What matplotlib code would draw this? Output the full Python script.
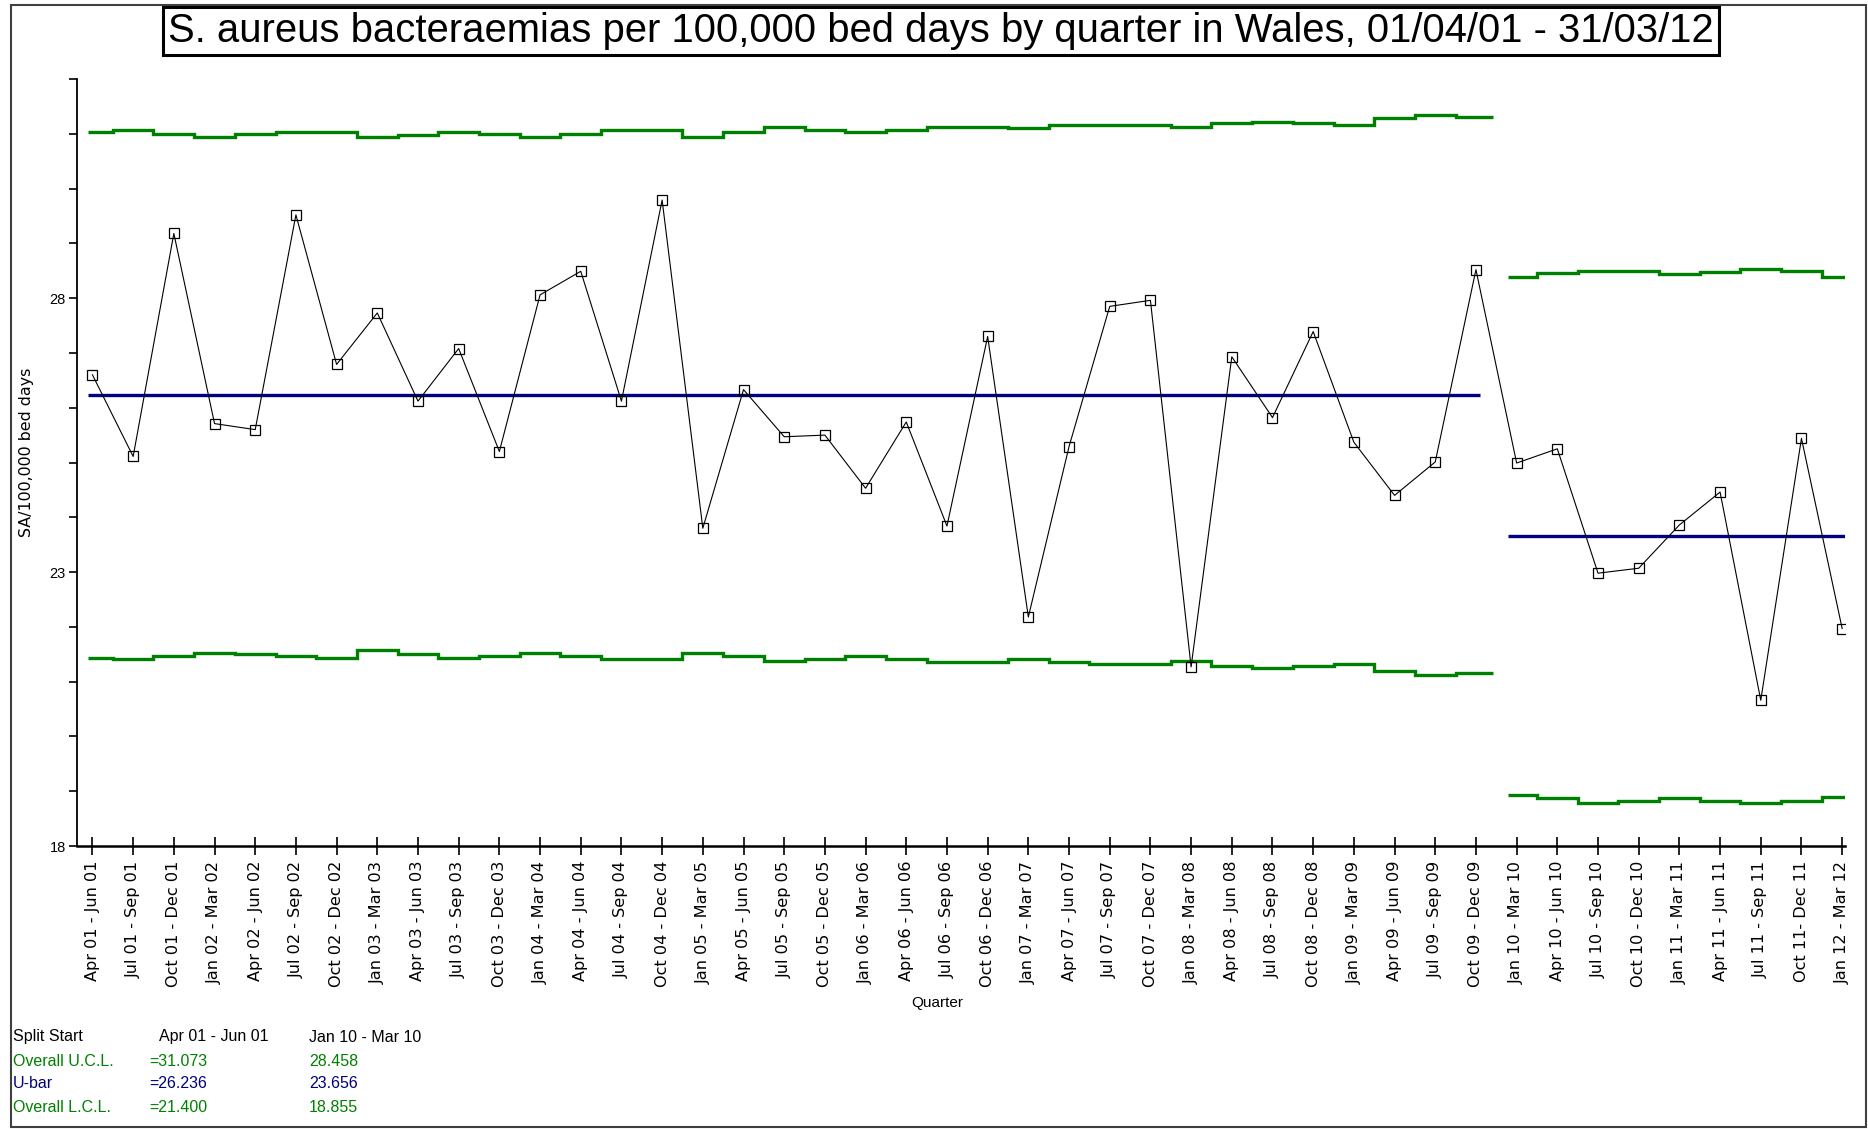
import numpy as np
import matplotlib
matplotlib.use("Agg")
import matplotlib.pyplot as plt
from matplotlib.patches import Rectangle
from matplotlib import font_manager

# ---------------- data ----------------
quarters = [
    "Apr 01 - Jun 01", "Jul 01 - Sep 01", "Oct 01 - Dec 01", "Jan 02 - Mar 02",
    "Apr 02 - Jun 02", "Jul 02 - Sep 02", "Oct 02 - Dec 02", "Jan 03 - Mar 03",
    "Apr 03 - Jun 03", "Jul 03 - Sep 03", "Oct 03 - Dec 03", "Jan 04 - Mar 04",
    "Apr 04 - Jun 04", "Jul 04 - Sep 04", "Oct 04 - Dec 04", "Jan 05 - Mar 05",
    "Apr 05 - Jun 05", "Jul 05 - Sep 05", "Oct 05 - Dec 05", "Jan 06 - Mar 06",
    "Apr 06 - Jun 06", "Jul 06 - Sep 06", "Oct 06 - Dec 06", "Jan 07 - Mar 07",
    "Apr 07 - Jun 07", "Jul 07 - Sep 07", "Oct 07 - Dec 07", "Jan 08 - Mar 08",
    "Apr 08 - Jun 08", "Jul 08 - Sep 08", "Oct 08 - Dec 08", "Jan 09 - Mar 09",
    "Apr 09 - Jun 09", "Jul 09 - Sep 09", "Oct 09 - Dec 09", "Jan 10 - Mar 10",
    "Apr 10 - Jun 10", "Jul 10 - Sep 10", "Oct 10 - Dec 10", "Jan 11 - Mar 11",
    "Apr 11 - Jun 11", "Jul 11 - Sep 11", "Oct 11- Dec 11", "Jan 12 - Mar 12",
]

rate = [26.60, 25.11, 29.18, 25.71, 25.60, 29.52, 26.79, 27.73, 26.12, 27.08,
        25.20, 28.06, 28.49, 26.12, 29.79, 23.80, 26.33, 25.47, 25.50, 24.53,
        25.74, 23.84, 27.30, 22.18, 25.29, 27.85, 27.96, 21.27, 26.93, 25.82,
        27.39, 25.37, 24.40, 25.01, 28.52, 24.99, 25.25, 22.98, 23.07, 23.86,
        24.46, 20.66, 25.44, 21.97]

ucl_phase1 = [31.03, 31.06, 31.00, 30.94, 31.00, 31.03, 31.03, 30.94, 30.97, 31.03,
              31.00, 30.94, 31.00, 31.06, 31.06, 30.94, 31.03, 31.13, 31.06, 31.03,
              31.06, 31.13, 31.13, 31.10, 31.16, 31.16, 31.16, 31.13, 31.19, 31.22,
              31.19, 31.16, 31.28, 31.34, 31.31]
lcl_phase1 = [21.44, 21.41, 21.47, 21.53, 21.50, 21.47, 21.44, 21.57, 21.50, 21.44,
              21.47, 21.53, 21.47, 21.41, 21.41, 21.53, 21.47, 21.38, 21.41, 21.47,
              21.41, 21.35, 21.35, 21.42, 21.35, 21.32, 21.32, 21.38, 21.28, 21.25,
              21.28, 21.32, 21.19, 21.13, 21.16]
ucl_phase2 = [28.39, 28.45, 28.50, 28.50, 28.44, 28.47, 28.54, 28.50, 28.39]
lcl_phase2 = [18.93, 18.88, 18.79, 18.82, 18.88, 18.82, 18.79, 18.82, 18.90]

ubar = [26.236, 23.656]
overall_ucl = [31.073, 28.458]
overall_lcl = [21.400, 18.855]
split_start = ["Apr 01 - Jun 01", "Jan 10 - Mar 10"]

title = "S. aureus bacteraemias per 100,000 bed days by quarter in Wales, 01/04/01 - 31/03/12"
ylabel = "SA/100,000 bed days"
xlabel = "Quarter"

# ---------------- style ----------------
GREEN = "#008000"
NAVY = "#000080"
W, H = 1868, 1129

avail = {f.name for f in font_manager.fontManager.ttflist}
NARROW = "Liberation Sans Narrow" if "Liberation Sans Narrow" in avail else "Liberation Sans"
ARIAL = "Liberation Sans"
WIDE = "DejaVu Sans"

fig = plt.figure(figsize=(W / 100, H / 100), dpi=100)
fig.patch.set_facecolor("white")

def fx(px):
    return px / W

def fy(py):
    return 1 - py / H

# outer frame
fig.add_artist(Rectangle((fx(11), fy(1127)), fx(1866) - fx(11), fy(5) - fy(1127),
                         transform=fig.transFigure, fill=False, edgecolor="#404040",
                         linewidth=1.5))

ax = fig.add_axes([fx(77), fy(846), fx(1845) - fx(77), fy(79) - fy(846)])
ax.set_facecolor("white")

n = len(rate)
x = np.arange(n)
n1 = len(ucl_phase1)

# control limits (phase 1)
edges1 = np.arange(n1 + 1) - 0.5
edges1[0] = -0.11
edges1[-1] = n1 - 1 + 0.42
ax.stairs(ucl_phase1, edges1, baseline=None, color=GREEN, linewidth=2.4)
ax.stairs(lcl_phase1, edges1, baseline=None, color=GREEN, linewidth=2.4)
ax.hlines(ubar[0], -0.11, n1 - 1 + 0.09, color=NAVY, linewidth=2.4)

# control limits (phase 2)
n2 = len(ucl_phase2)
edges2 = np.arange(n1, n1 + n2 + 1) - 0.5
edges2[0] = n1 - 0.21
edges2[-1] = n - 1 + 0.07
ax.stairs(ucl_phase2, edges2, baseline=None, color=GREEN, linewidth=2.4)
ax.stairs(lcl_phase2, edges2, baseline=None, color=GREEN, linewidth=2.4)
ax.hlines(ubar[1], n1 - 0.21, n - 1 + 0.07, color=NAVY, linewidth=2.4)

# data
ax.plot(x, rate, color="black", linewidth=0.8, marker="s", markersize=7,
        markerfacecolor="none", markeredgecolor="black", markeredgewidth=0.9, zorder=5)

ax.set_xlim(-0.38, n - 1 + 0.07)
ax.set_ylim(18, 32)

for s in ["top", "right"]:
    ax.spines[s].set_visible(False)
ax.spines["left"].set_linewidth(1.3)
ax.spines["bottom"].set_linewidth(1.8)

ax.set_yticks([18, 23, 28])
ax.set_yticks(np.arange(18, 33, 1), minor=True)
ax.set_yticklabels(["18", "23", "28"], fontsize=10.5, family=NARROW)
ax.tick_params(axis="y", which="both", direction="out", length=6, width=1.2, pad=2)

ax.set_xticks(x)
ax.set_xticklabels(quarters, rotation=90, fontsize=11.6, family=WIDE)
ax.tick_params(axis="x", which="major", direction="inout", length=13, width=1.2, pad=4)

fig.text(fx(27), fy(452), ylabel, rotation=90, ha="center", va="center",
         fontsize=11.4, family=WIDE)
fig.text(fx(937), fy(1003), xlabel, ha="center", va="center", fontsize=11, family=NARROW)

# title in box
t = fig.text(fx(941), fy(31), title, ha="center", va="center", fontsize=27,
             family=ARIAL,
             bbox=dict(boxstyle="square,pad=0.12", facecolor="white",
                       edgecolor="black", linewidth=2.2))
fig.canvas.draw()
bb = t.get_window_extent()
target = 1545.0
t.set_fontsize(27 * target / bb.width)

# summary table
rows_y = [1037, 1061, 1084, 1107]
fs = 11.5
fig.text(fx(13), fy(rows_y[0]), "Split Start", ha="left", va="center", fontsize=fs, family=NARROW)
fig.text(fx(159), fy(rows_y[0]), split_start[0], ha="left", va="center", fontsize=fs, family=NARROW)
fig.text(fx(309), fy(rows_y[0]), split_start[1], ha="left", va="center", fontsize=fs, family=NARROW)

row_defs = [("Overall U.C.L.", overall_ucl, GREEN),
            ("U-bar", ubar, NAVY),
            ("Overall L.C.L.", overall_lcl, GREEN)]
for (lab, vals, col), yy in zip(row_defs, rows_y[1:]):
    fig.text(fx(13), fy(yy), lab, ha="left", va="center", fontsize=fs, family=NARROW, color=col)
    fig.text(fx(149), fy(yy), "=%.3f" % vals[0], ha="left", va="center", fontsize=fs,
             family=NARROW, color=col)
    fig.text(fx(309), fy(yy), "%.3f" % vals[1], ha="left", va="center", fontsize=fs,
             family=NARROW, color=col)

fig.savefig("out.png", dpi=100, facecolor="white")
